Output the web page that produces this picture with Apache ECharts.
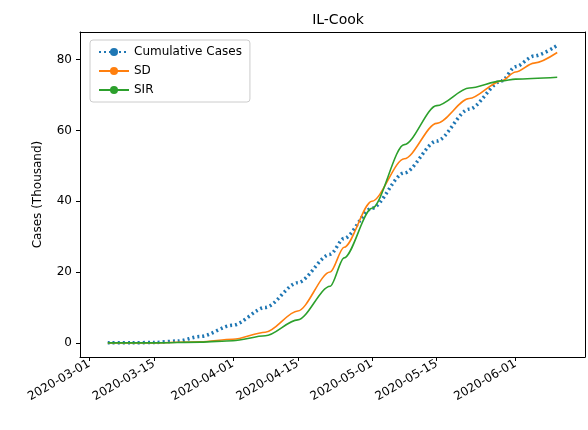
<!DOCTYPE html>
<html><head><meta charset="utf-8">
<script src="https://cdn.jsdelivr.net/npm/echarts@6/dist/echarts.min.js"></script>
<style>body{margin:0}#c{width:588px;height:430px}</style></head>
<body><div id="c"></div>
<script>
// readings from the picture, keyed by date
const cumDates = ['2020-03-05','2020-03-10','2020-03-15','2020-03-20','2020-03-25','2020-04-01','2020-04-08','2020-04-15','2020-04-22','2020-04-25','2020-05-01','2020-05-08','2020-05-15','2020-05-22','2020-05-29','2020-06-01','2020-06-05','2020-06-10'];
const cumVals  = [0, 0, 0.1, 0.5, 1.8, 5, 10, 17, 25, 29.5, 38, 48, 57, 66, 74, 78, 81, 84];
const sdDates = ['2020-03-05','2020-03-15','2020-03-25','2020-04-01','2020-04-08','2020-04-15','2020-04-22','2020-04-25','2020-05-01','2020-05-08','2020-05-15','2020-05-22','2020-05-29','2020-06-01','2020-06-05','2020-06-10'];
const sdVals  = [0, 0, 0.3, 1, 3, 9, 20, 27, 40, 52, 62, 69, 74, 76.5, 79, 82];
const sirDates = ['2020-03-05','2020-03-15','2020-03-25','2020-04-01','2020-04-08','2020-04-15','2020-04-22','2020-04-25','2020-05-01','2020-05-08','2020-05-15','2020-05-22','2020-05-29','2020-06-01','2020-06-10'];
const sirVals  = [0, 0, 0.2, 0.6, 2, 6.5, 16, 24, 38, 56, 67, 72, 74, 74.5, 75];
const tickDates = ['2020-03-01','2020-03-15','2020-04-01','2020-04-15','2020-05-01','2020-05-15','2020-06-01'];
const yTicks = [0, 20, 40, 60, 80];

const days = [];
for (let t = Date.UTC(2020,1,28); t <= Date.UTC(2020,5,16); t += 86400000)
  days.push(new Date(t).toISOString().slice(0,10));
function onDays(ds, vs) {
  const m = {}; ds.forEach((d,i) => m[d] = vs[i]);
  return days.map(d => d in m ? m[d] : null);
}
const isTick = (i, v) => tickDates.includes(v);

const chart = echarts.init(document.getElementById('c'));
const font = 'DejaVu Sans';
const line = (name, ds, vs, color, type, w) => ({
  name, type: 'line', data: onDays(ds, vs), connectNulls: true, smooth: 0.3,
  smoothMonotone: 'x', symbol: 'none', lineStyle: {color, type, width: w}, itemStyle: {color}
});
chart.setOption({
  animation: false,
  textStyle: {fontFamily: font},
  title: {text: 'IL-Cook', left: 333, top: 8, textAlign: 'center',
    textStyle: {fontSize: 14, fontWeight: 'normal', color: '#000', fontFamily: font}},
  grid: {left: 80, right: 3, top: 32, bottom: 73},
  legend: {left: 90, top: 40, orient: 'vertical', itemWidth: 30, itemHeight: 10, itemGap: 7,
    padding: [6, 8], borderColor: '#ccc', borderWidth: 1, borderRadius: 3,
    textStyle: {fontSize: 12, color: '#000'},
    data: ['Cumulative Cases', 'SD', 'SIR']},
  xAxis: [{type: 'category', data: days, boundaryGap: false,
    axisLine: {onZero: false, lineStyle: {color: '#000'}},
    axisTick: {interval: isTick, length: 4, lineStyle: {color: '#000'}},
    axisLabel: {interval: isTick, rotate: 30, fontSize: 12, color: '#000', margin: 6},
    splitLine: {show: false}},
   {type: 'category', data: days, position: 'top', boundaryGap: false,
    axisLine: {onZero: false, lineStyle: {color: '#000'}}, axisTick: {show: false}, axisLabel: {show: false}}],
  yAxis: [{type: 'value', min: -4, max: 87.8,
    name: 'Cases (Thousand)', nameLocation: 'middle', nameGap: 36,
    nameTextStyle: {fontSize: 12, color: '#000'},
    axisLine: {show: true, lineStyle: {color: '#000'}},
    axisTick: {show: true, length: 4, customValues: yTicks, lineStyle: {color: '#000'}},
    axisLabel: {fontSize: 12, color: '#000', customValues: yTicks},
    splitLine: {show: false}},
   {type: 'value', position: 'right', min: -4, max: 87.8,
    axisLine: {show: true, lineStyle: {color: '#000'}}, axisTick: {show: false},
    axisLabel: {show: false}, splitLine: {show: false}}],
  series: [
    line('Cumulative Cases', cumDates, cumVals, '#1f77b4', [2, 3], 3.5),
    line('SD', sdDates, sdVals, '#ff7f0e', 'solid', 1.6),
    line('SIR', sirDates, sirVals, '#2ca02c', 'solid', 1.6)
  ]
});
</script></body></html>
